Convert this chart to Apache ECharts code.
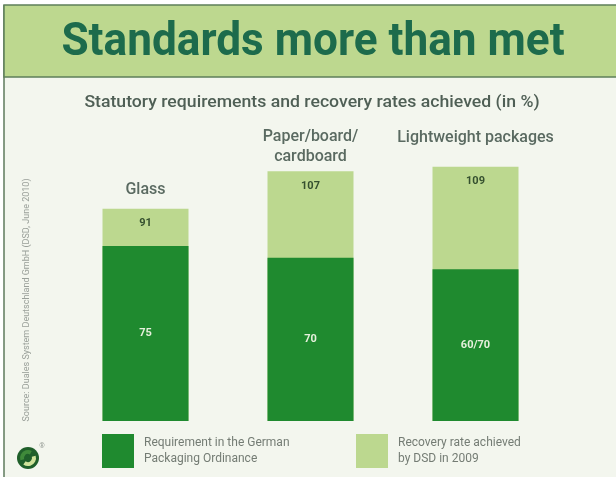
<!DOCTYPE html>
<html>
<head>
<meta charset="utf-8">
<script src="https://cdn.jsdelivr.net/npm/echarts@6/dist/echarts.min.js"></script>
<style>
  html, body { margin: 0; padding: 0; background: #ffffff; }
  #chart { width: 616px; height: 477px; }
</style>
</head>
<body>
<div id="chart"></div>
<script>
// ---- data ----
const categories = ['Glass', 'Paper/board/\ncardboard', 'Lightweight packages'];
const recovery = [91, 107, 109];                 // Recovery rate achieved by DSD in 2009
const requirement = [75, 70, 65];                // Requirement (60/70 bar drawn at its height in the picture)
const recoveryLabels = ['91', '107', '109'];
const requirementLabels = ['75', '70', '60/70'];
const seriesNames = ['Recovery rate achieved by DSD in 2009', 'Requirement in the German Packaging Ordinance'];
const legendLabels = {
  'Requirement in the German Packaging Ordinance': 'Requirement in the German\nPackaging Ordinance',
  'Recovery rate achieved by DSD in 2009': 'Recovery rate achieved\nby DSD in 2009'
};
const titleText = 'Standards more than met';
const subtitleText = 'Statutory requirements and recovery rates achieved (in %)';
const sourceText = 'Source: Duales System Deutschland GmbH (DSD, June 2010)';

// ---- styling (kept apart from data) ----
const DARK = '#1f8a2f';
const LIGHT = '#bcd88f';
const catLabelDistance = [9, 4, 19];

const chart = echarts.init(document.getElementById('chart'), null, { renderer: 'canvas' });

chart.setOption({
  backgroundColor: '#ffffff',
  animation: false,
  grid: { left: 63, right: 58, top: 141, bottom: 56 },
  xAxis: {
    type: 'category',
    data: categories,
    axisLine: { show: false },
    axisTick: { show: false },
    axisLabel: { show: false },
    splitLine: { show: false }
  },
  yAxis: {
    type: 'value',
    min: 0,
    max: 120,
    show: false,
    splitLine: { show: false }
  },
  legend: {
    data: [seriesNames[1], seriesNames[0]],
    left: 102,
    top: 434,
    padding: 0,
    orient: 'horizontal',
    itemWidth: 32,
    itemHeight: 34,
    itemGap: 32,
    icon: 'rect',
    selectedMode: false,
    formatter: n => legendLabels[n],
    textStyle: {
      fontFamily: 'Roboto, sans-serif',
      fontSize: 12,
      color: '#747c74',
      lineHeight: 16,
      width: 180,
      padding: [0, 0, 0, 5]
    }
  },
  graphic: [
    { type: 'rect', silent: true, z: -10, shape: { x: 4, y: 5, width: 620, height: 480 }, style: { fill: '#f3f6ee' } },
    { type: 'line', silent: true, z: -5, shape: { x1: 4, y1: 5, x2: 4, y2: 477 }, style: { stroke: '#5e7a5c', lineWidth: 1.5 } },
    { type: 'rect', silent: true, z: -5, shape: { x: 4, y: 5, width: 620, height: 72 }, style: { fill: '#bdd88f', stroke: '#5e7f5a', lineWidth: 1.5 } },
    {
      type: 'text', silent: true, z: 10,
      x: 313, y: 43, scaleX: 0.96,
      style: {
        text: titleText, fill: '#1d6b4c',
        font: 'bold 46px Roboto, sans-serif',
        textAlign: 'center', textVerticalAlign: 'middle'
      }
    },
    {
      type: 'text', silent: true, z: 10,
      x: 312, y: 103, scaleX: 1.07,
      style: {
        text: subtitleText, fill: '#4f5f55',
        font: '500 16.5px Roboto, sans-serif',
        textAlign: 'center', textVerticalAlign: 'middle'
      }
    },
    {
      type: 'text', silent: true, z: 10,
      x: 27, y: 300, rotation: Math.PI / 2,
      style: {
        text: sourceText, fill: '#9aa09a',
        font: '9px Roboto, sans-serif',
        textAlign: 'center', textVerticalAlign: 'middle'
      }
    },
    // Der Gruene Punkt style logo
    {
      type: 'group', x: 28, y: 458, silent: true, z: 10,
      children: [
        { type: 'circle', shape: { cx: 0, cy: 0, r: 11 }, style: { fill: '#1f5f2a' } },
        { type: 'sector', shape: { cx: 0, cy: 0, r: 8, r0: 4, startAngle: -0.3, endAngle: 2.2 }, style: { fill: '#cfe29a' } },
        { type: 'sector', shape: { cx: 0, cy: 0, r: 8, r0: 4, startAngle: 2.85, endAngle: 5.2 }, style: { fill: '#3f8a3a' } }
      ]
    },
    {
      type: 'text', silent: true, z: 10, x: 42, y: 446,
      style: { text: '®', fill: '#9aa09a', font: '7px Roboto, sans-serif', textAlign: 'center', textVerticalAlign: 'middle' }
    }
  ],
  series: [
    {
      name: seriesNames[0],
      type: 'bar',
      barWidth: 86,
      barGap: '-100%',
      data: recovery,
      itemStyle: { color: LIGHT },
      label: {
        show: true,
        position: 'insideTop',
        distance: 9,
        formatter: p => recoveryLabels[p.dataIndex],
        fontFamily: 'Roboto, sans-serif',
        fontWeight: 'bold',
        fontSize: 11,
        color: '#35502f'
      }
    },
    {
      name: seriesNames[1],
      type: 'bar',
      barWidth: 86,
      barGap: '-100%',
      data: requirement,
      itemStyle: { color: DARK },
      label: {
        show: true,
        position: 'inside',
        formatter: p => requirementLabels[p.dataIndex],
        fontFamily: 'Roboto, sans-serif',
        fontWeight: 'bold',
        fontSize: 11,
        color: '#e6f0dc'
      }
    },
    {
      name: 'categoryLabels',
      type: 'bar',
      barWidth: 86,
      barGap: '-100%',
      silent: true,
      data: recovery.map((v, i) => ({
        value: v,
        label: { distance: catLabelDistance[i] }
      })),
      itemStyle: { color: 'rgba(0,0,0,0)' },
      label: {
        show: true,
        position: 'top',
        formatter: p => categories[p.dataIndex],
        fontFamily: 'Roboto, sans-serif',
        fontWeight: 500,
        fontSize: 16,
        lineHeight: 20,
        color: '#5a6a61'
      }
    }
  ]
});
</script>
</body>
</html>
